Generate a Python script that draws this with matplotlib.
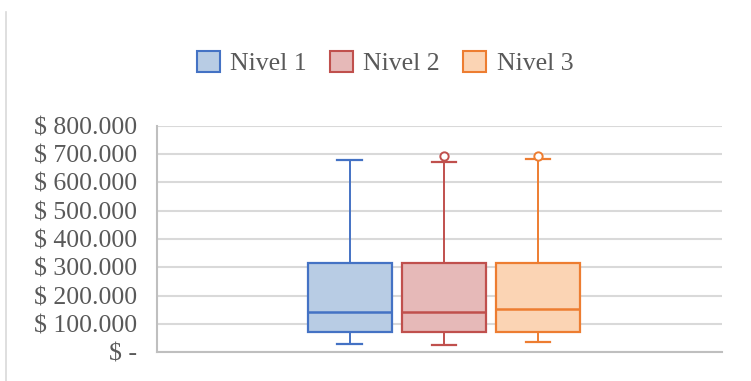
import matplotlib
matplotlib.use("Agg")
import matplotlib.pyplot as plt
from matplotlib.patches import Patch
from matplotlib.lines import Line2D

labels = ["Nivel 1", "Nivel 2", "Nivel 3"]
whislo = [27000, 25000, 34000]
q1 = [72000, 72000, 72000]
med = [143000, 143000, 151000]
q3 = [316000, 316000, 316000]
whishi = [680000, 674000, 682000]
fliers = [[], [694000], [694000]]
yticks = [0, 100000, 200000, 300000, 400000, 500000, 600000, 700000, 800000]
ytick_labels = ["$ -", "$ 100.000", "$ 200.000", "$ 300.000", "$ 400.000",
                "$ 500.000", "$ 600.000", "$ 700.000", "$ 800.000"]

edge_colors = ["#4472C4", "#C0504D", "#ED7D31"]
face_colors = ["#B8CCE4", "#E6B9B8", "#FBD4B4"]

plt.rcParams['font.family'] = ['Liberation Serif', 'DejaVu Serif']

fig = plt.figure(figsize=(7.51, 3.81), dpi=100)
ax = fig.add_axes([157/751, 1-352/381, (722-157)/751, (352-126)/381])

stats = []
for i in range(3):
    stats.append(dict(label=labels[i], whislo=whislo[i], q1=q1[i], med=med[i],
                      q3=q3[i], whishi=whishi[i], fliers=fliers[i]))

positions = [1, 2, 3]
for i, s in enumerate(stats):
    c = edge_colors[i]
    ax.bxp([s], positions=[positions[i]], widths=0.89, patch_artist=True,
           showfliers=True,
           boxprops=dict(facecolor=face_colors[i], edgecolor=c, linewidth=1.6),
           medianprops=dict(color=c, linewidth=1.8),
           whiskerprops=dict(color=c, linewidth=1.4),
           capprops=dict(color=c, linewidth=1.6),
           flierprops=dict(marker='o', markerfacecolor='white', markeredgecolor=c,
                           markersize=6, markeredgewidth=1.4),
           capwidths=0.26, zorder=3)

ax.set_xlim(-1.05, 4.96)
ax.set_ylim(0, 800000)
ax.set_yticks(yticks)
ax.set_yticklabels(ytick_labels)
ax.set_xticks([])
ax.grid(axis='y', color='#D9D9D9', linewidth=1.5, zorder=0)
ax.set_axisbelow(True)
for sp in ['top', 'right']:
    ax.spines[sp].set_visible(False)
for sp in ['left', 'bottom']:
    ax.spines[sp].set_color('#BFBFBF')
    ax.spines[sp].set_linewidth(1.5)
ax.tick_params(axis='y', length=0, pad=14.4, labelsize=18.5, labelcolor='#595959')

handles = [Patch(facecolor=face_colors[i], edgecolor=edge_colors[i], linewidth=1.5,
                 label=labels[i]) for i in range(3)]
fig.legend(handles=handles, loc='center', bbox_to_anchor=(385/751, 1-63/381),
           ncol=3, frameon=False, fontsize=18.5, handlelength=0.9, handleheight=0.9,
           handletextpad=0.4, columnspacing=0.9, labelcolor='#595959',
           borderpad=0, borderaxespad=0)

fig.add_artist(Line2D([6/751, 6/751], [0, 1-12/381], transform=fig.transFigure,
                      color='#D9D9D9', linewidth=1.2))

fig.savefig("out.png", dpi=100)
